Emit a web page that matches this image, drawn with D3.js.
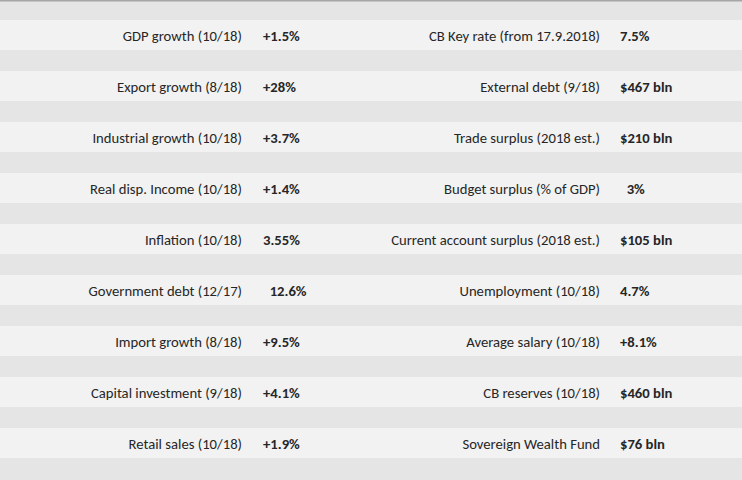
<!DOCTYPE html>
<html><head><meta charset="utf-8">
<script src="https://cdn.jsdelivr.net/npm/d3@7"></script>
<style>
html,body{margin:0;padding:0;background:#e5e5e5;}
svg{display:block;}
text{white-space:pre;}
</style></head>
<body>
<script>
const leftLabels = ["GDP growth (10/18)","Export growth (8/18)","Industrial growth (10/18)","Real disp. Income (10/18)","Inflation (10/18)","Government debt (12/17)","Import growth (8/18)","Capital investment (9/18)","Retail sales (10/18)"];
const leftValues = ["+1.5%","+28%","+3.7%","+1.4%","3.55%","  12.6%","+9.5%","+4.1%","+1.9%"];
const rightLabels = ["CB Key rate (from 17.9.2018)","External debt (9/18)","Trade surplus (2018 est.)","Budget surplus (% of GDP)","Current account surplus (2018 est.)","Unemployment (10/18)","Average salary (10/18)","CB reserves (10/18)","Sovereign Wealth Fund"];
const rightValues = ["7.5%","$467 bln","$210 bln","  3%","$105 bln","4.7%","+8.1%","$460 bln","$76 bln"];

const W = 742, H = 480;
const svg = d3.select("body").append("svg").attr("width", W).attr("height", H);
svg.append("rect").attr("width", W).attr("height", H).attr("fill", "#e5e5e5");
svg.append("rect").attr("width", W).attr("height", 1.5).attr("fill", "#a6a6a6");

const idx = d3.range(leftLabels.length);
const y = d3.scaleBand().domain(idx).range([20, 458]).paddingInner(21/51).paddingOuter(0);

svg.selectAll("rect.band").data(idx).join("rect").attr("class","band")
  .attr("x", 0).attr("width", W).attr("y", d => y(d)).attr("height", y.bandwidth())
  .attr("fill", "#f2f2f2");

const font = "Calibri, Lato, sans-serif";
const fs = 14.67;
function col(labels, values, xl, xv) {
  const g = svg.append("g");
  g.selectAll("text.l").data(labels).join("text").attr("class","l")
    .attr("x", xl).attr("y", (d,i) => y(i) + y.bandwidth()/2 + 1)
    .attr("dy", "0.35em").attr("text-anchor", "end")
    .attr("font-family", font).attr("font-size", fs).attr("fill", "#262626").text(d => d);
  g.selectAll("text.v").data(values).join("text").attr("class","v")
    .attr("x", xv).attr("y", (d,i) => y(i) + y.bandwidth()/2 + 1)
    .attr("dy", "0.35em").attr("font-weight", "bold")
    .attr("font-family", font).attr("font-size", fs).attr("fill", "#262626").text(d => d);
}
col(leftLabels, leftValues, 242, 263);
col(rightLabels, rightValues, 600, 620);
</script>
</body></html>
